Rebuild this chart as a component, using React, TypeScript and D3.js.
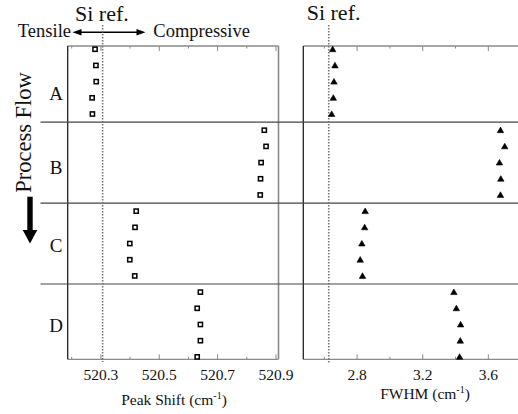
import React from "react";
import * as d3 from "d3";

const groups = ["A", "B", "C", "D"];
const groupLabelPos = [2.75, 7.3, 12.1, 17.05];
const separators = [4.5, 9.5, 14.5];
const peakShift = [
  520.28, 520.283, 520.284, 520.27, 520.271,
  520.86, 520.866, 520.849, 520.847, 520.846,
  520.421, 520.417, 520.399, 520.399, 520.416,
  520.641, 520.63, 520.641, 520.641, 520.63,
];
const fwhm = [
  2.651, 2.665, 2.659, 2.655, 2.645,
  3.674, 3.7, 3.668, 3.676, 3.674,
  2.849, 2.846, 2.829, 2.819, 2.833,
  3.39, 3.405, 3.431, 3.429, 3.425,
];
const siRefShift = 520.306;
const siRefFwhm = 2.627;
const shiftMajor = [520.3, 520.5, 520.7, 520.9];
const shiftMinor = [520.2, 520.4, 520.6, 520.8];
const fwhmMajor = [2.8, 3.2, 3.6];
const fwhmMinor = [2.6, 3.0, 3.4, 3.8];

const W = 518;
const H = 414;
const FONT = "'Liberation Serif', 'Times New Roman', serif";
const TOP = 46;
const BOTTOM = 359.3;

export default function App() {
  const y = d3.scaleLinear().domain([-0.2, 19.15]).range([TOP, BOTTOM]);
  const xL = d3.scaleLinear().domain([520.1863, 520.9086]).range([67.7, 278.5]);
  const xR = d3.scaleLinear().domain([2.472, 3.854]).range([303.3, 530]);
  const tri = d3.symbol().type(d3.symbolTriangle).size(18)();
  const grey = "#8a8a8a";
  const dark = "#222";

  const ticks = (x: d3.ScaleLinear<number, number>, vals: number[], len: number, key: string) =>
    vals.map((v) => (
      <g key={key + v}>
        <line x1={x(v)} x2={x(v)} y1={TOP} y2={TOP + len} stroke={grey} strokeWidth={1} />
        <line x1={x(v)} x2={x(v)} y1={BOTTOM} y2={BOTTOM - len} stroke={grey} strokeWidth={1} />
      </g>
    ));

  return (
    <svg width={W} height={H} style={{ position: "absolute", left: 0, top: 0, background: "#fff" }} fontFamily={FONT}>
      <rect width={W} height={H} fill="#fff" />
      {/* top annotation */}
      <text x={75} y={21} fontSize={22} fill="#111">Si ref.</text>
      <text x={306.7} y={20} fontSize={22} fill="#111">Si ref.</text>
      <text x={71} y={37.3} fontSize={18.5} textAnchor="end" fill="#111">Tensile</text>
      <text x={153.3} y={37.3} fontSize={18.5} fill="#111">Compressive</text>
      <line x1={79} x2={139} y1={32.3} y2={32.3} stroke="#000" strokeWidth={1.6} />
      <path d="M72.5,32.3 L81.5,29 L81.5,35.6 Z" fill="#000" />
      <path d="M145.5,32.3 L136.5,29 L136.5,35.6 Z" fill="#000" />

      {/* Process flow */}
      <text x={31} y={132.5} fontSize={22.5} textAnchor="middle" transform="rotate(-90 31 132.5)" fill="#111">Process Flow</text>
      <rect x={27.3} y={196.7} width={5.4} height={34} fill="#000" />
      <path d="M22.7,230 L37.3,230 L30,243.5 Z" fill="#000" />

      {/* group labels */}
      {groups.map((g, i) => (
        <text key={g} x={56} y={y(groupLabelPos[i])} fontSize={19} textAnchor="middle" dominantBaseline="central" fill="#111">{g}</text>
      ))}

      {/* left panel frame */}
      <line x1={67.7} x2={278.5} y1={TOP} y2={TOP} stroke={grey} strokeWidth={1.3} />
      <line x1={67.7} x2={278.5} y1={BOTTOM} y2={BOTTOM} stroke={grey} strokeWidth={1.3} />
      <line x1={278.5} x2={278.5} y1={TOP} y2={BOTTOM} stroke={grey} strokeWidth={1.6} />
      <line x1={67.7} x2={67.7} y1={TOP} y2={BOTTOM} stroke={dark} strokeWidth={1.3} />
      {ticks(xL, shiftMajor, 5, "lM")}
      {ticks(xL, shiftMinor, 2.5, "lm")}
      {shiftMajor.map((v) => (
        <text key={"lt" + v} x={xL(v)} y={380} fontSize={15.5} textAnchor="middle" fill="#111">{v.toFixed(1)}</text>
      ))}
      <text x={174} y={405} fontSize={15.5} textAnchor="middle" fill="#111">
        Peak Shift (cm<tspan fontSize={10} dy={-6}>-1</tspan><tspan dy={6}>)</tspan>
      </text>

      {/* right panel frame */}
      <line x1={303.3} x2={W} y1={TOP} y2={TOP} stroke={grey} strokeWidth={1.3} />
      <line x1={303.3} x2={W} y1={BOTTOM} y2={BOTTOM} stroke={grey} strokeWidth={1.3} />
      <line x1={303.3} x2={303.3} y1={TOP} y2={BOTTOM} stroke={dark} strokeWidth={1.3} />
      {ticks(xR, fwhmMajor, 5, "rM")}
      {ticks(xR, fwhmMinor, 2.5, "rm")}
      {fwhmMajor.map((v) => (
        <text key={"rt" + v} x={xR(v)} y={380} fontSize={15.5} textAnchor="middle" fill="#111">{v.toFixed(1)}</text>
      ))}
      <text x={425} y={399.3} fontSize={15.5} textAnchor="middle" fill="#111">
        FWHM (cm<tspan fontSize={10} dy={-6}>-1</tspan><tspan dy={6}>)</tspan>
      </text>

      {/* separators */}
      {separators.map((s) => (
        <line key={"s" + s} x1={40.5} x2={W} y1={y(s)} y2={y(s)} stroke="#444" strokeWidth={1.2} />
      ))}

      {/* Si ref dotted lines */}
      <line x1={xL(siRefShift)} x2={xL(siRefShift)} y1={25} y2={362} stroke="#777" strokeWidth={1.6} strokeDasharray="1.4,1.6" />
      <line x1={xR(siRefFwhm)} x2={xR(siRefFwhm)} y1={25} y2={363} stroke="#777" strokeWidth={1.6} strokeDasharray="1.4,1.6" />

      {/* data */}
      {peakShift.map((v, i) => (
        <rect key={"p" + i} x={xL(v) - 2.1} y={y(i) - 2.1} width={4.2} height={4.2} fill="#fff" stroke="#000" strokeWidth={1.5} />
      ))}
      {fwhm.map((v, i) => (
        <path key={"f" + i} d={tri as string} transform={`translate(${xR(v)},${y(i) + 0.6})`} fill="#000" stroke="#000" strokeWidth={0.6} strokeLinejoin="round" />
      ))}
    </svg>
  );
}
